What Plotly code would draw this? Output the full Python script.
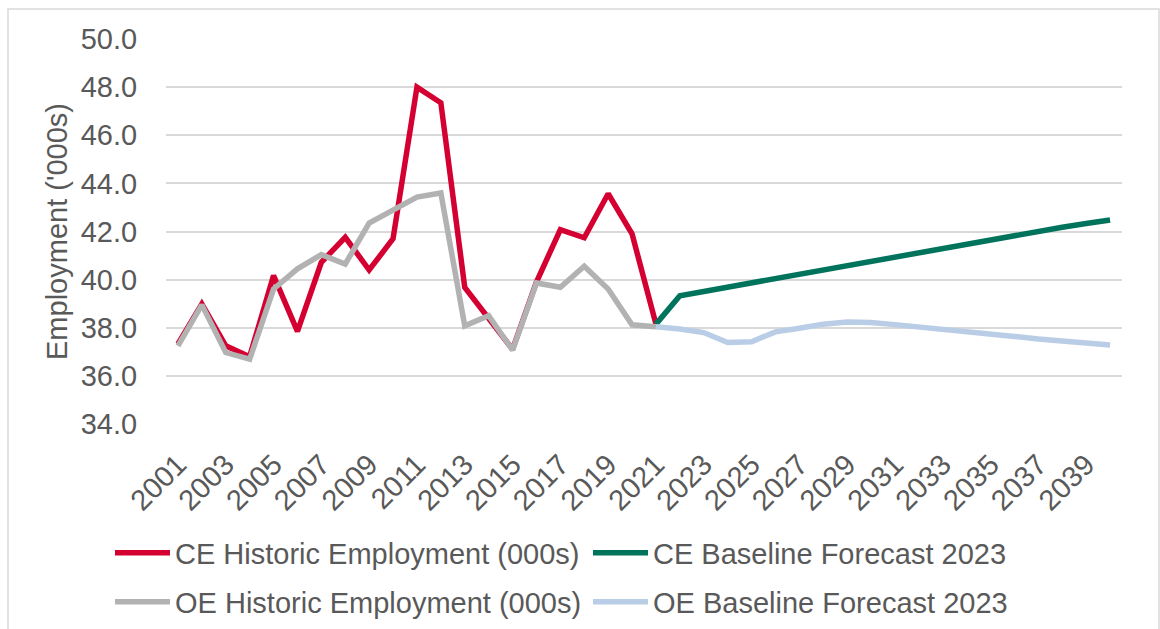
import plotly.graph_objects as go

# Years on the category axis
years_hist = list(range(2001, 2022))
years_fcst = list(range(2021, 2041))
tick_years = list(range(2001, 2041, 2))

# Employment ('000s)
ce_historic = [37.33, 38.99, 37.25, 36.80, 40.17, 37.85, 40.72, 41.76, 40.40, 41.70,
               48.00, 47.35, 39.68, 38.36, 37.10, 39.90, 42.08, 41.74, 43.57, 41.90, 38.15]
oe_historic = [37.25, 38.95, 36.97, 36.69, 39.61, 40.45, 41.04, 40.65, 42.35, 42.90,
               43.43, 43.60, 38.08, 38.50, 37.07, 39.86, 39.68, 40.56, 39.61, 38.12, 38.04]
ce_forecast = [38.15, 39.33, 39.51, 39.69, 39.85, 40.05, 40.25, 40.43, 40.60, 40.77,
               40.95, 41.13, 41.30, 41.48, 41.66, 41.84, 42.02, 42.18, 42.33, 42.48]
oe_forecast = [38.04, 37.95, 37.80, 37.39, 37.42, 37.83, 37.98, 38.15, 38.24, 38.22,
               38.13, 38.04, 37.96, 37.85, 37.74, 37.64, 37.53, 37.43, 37.35, 37.28]

FONT = "Liberation Sans, Arial, sans-serif"
TEXT = "#595959"
FS = 29
W, H = 1160, 629
L, R, T, B = 166, 38, 39, 205

fig = go.Figure()
fig.add_trace(go.Scatter(x=years_hist, y=ce_historic, mode="lines",
                         name="CE Historic Employment (000s)",
                         line=dict(color="#D50032", width=5.5), legend="legend"))
fig.add_trace(go.Scatter(x=years_fcst, y=ce_forecast, mode="lines",
                         name="CE Baseline Forecast 2023",
                         line=dict(color="#00735C", width=5.5), legend="legend"))
fig.add_trace(go.Scatter(x=years_hist, y=oe_historic, mode="lines",
                         name="OE Historic Employment (000s)",
                         line=dict(color="#B2B2B2", width=5.5), legend="legend2"))
fig.add_trace(go.Scatter(x=years_fcst, y=oe_forecast, mode="lines",
                         name="OE Baseline Forecast 2023",
                         line=dict(color="#BACDE6", width=5.5), legend="legend2"))

plot_h = H - T - B
plot_w = W - L - R


def py(pix):
    return (H - B - pix) / plot_h


def px(pix):
    return (pix - L) / plot_w


legend_common = dict(orientation="h", xanchor="left", yanchor="middle",
                     font=dict(family=FONT, size=FS, color=TEXT),
                     entrywidth=408, entrywidthmode="pixels", itemwidth=55,
                     bgcolor="rgba(0,0,0,0)", traceorder="normal")

fig.update_layout(
    width=W, height=H,
    margin=dict(l=L, r=R, t=T, b=B, autoexpand=False),
    paper_bgcolor="white", plot_bgcolor="white",
    font=dict(family=FONT, color=TEXT),
    showlegend=True,
    legend=dict(x=px(110), y=py(553), **legend_common),
    legend2=dict(x=px(110), y=py(602), **legend_common),
    xaxis=dict(range=[2000.5, 2040.5], tickmode="array", tickvals=tick_years,
               ticktext=[str(y) for y in tick_years], tickangle=-45,
               tickfont=dict(family=FONT, size=FS, color=TEXT),
               showgrid=False, zeroline=False, showline=False, automargin=False,
               ticks="outside", ticklen=11, tickcolor="rgba(0,0,0,0)"),
    yaxis=dict(range=[34, 50], dtick=2, tickformat=".1f",
               tickfont=dict(family=FONT, size=FS, color=TEXT),
               showgrid=True, gridcolor="#D9D9D9", gridwidth=1.5,
               zeroline=False, showline=False, automargin=False,
               ticks="outside", ticklen=22, tickcolor="rgba(0,0,0,0)",
               title=dict(text="Employment ('000s)", standoff=4,
                          font=dict(family=FONT, size=FS, color=TEXT))),
    shapes=[dict(type="rect", xref="paper", yref="paper",
                 x0=px(8), x1=px(1159), y0=py(650), y1=py(9),
                 line=dict(color="#D9D9D9", width=1.5), fillcolor="rgba(0,0,0,0)",
                 layer="below")],
)

fig.write_html("out.html")
